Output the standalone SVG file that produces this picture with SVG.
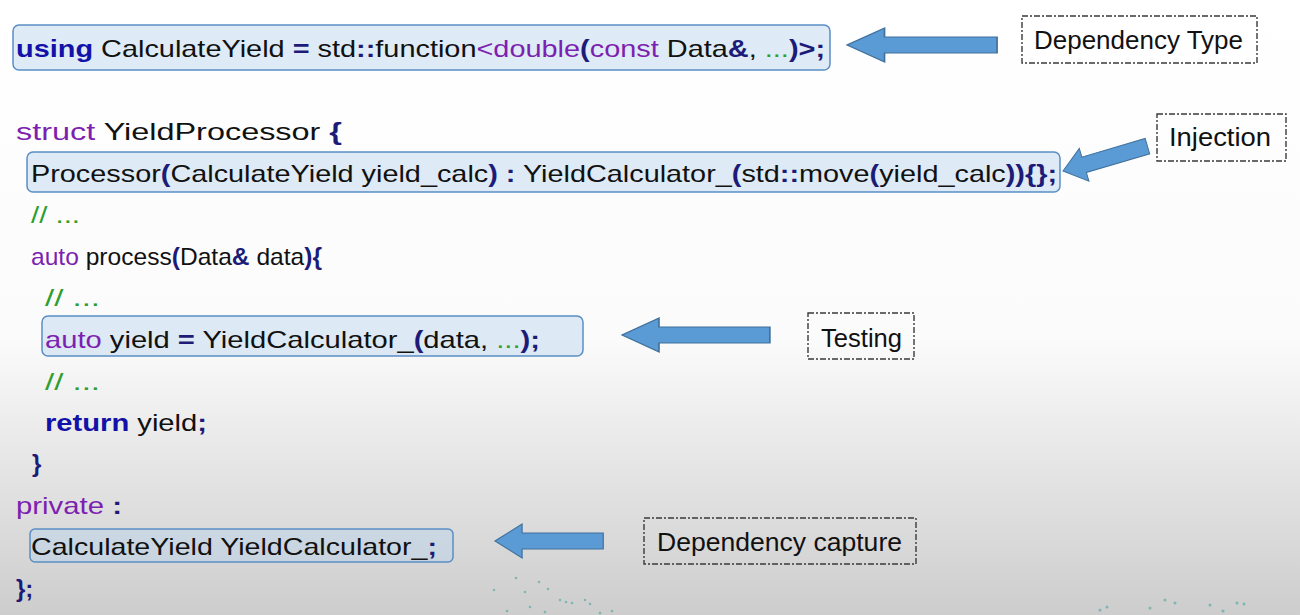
<svg xmlns="http://www.w3.org/2000/svg" width="1300" height="615" viewBox="0 0 1300 615">
<defs>
<linearGradient id="bg" x1="0" y1="0" x2="0" y2="1">
<stop offset="0" stop-color="#ffffff"/>
<stop offset="0.55" stop-color="#fbfbfb"/>
<stop offset="0.75" stop-color="#e6e6e6"/>
<stop offset="1" stop-color="#cdcdcd"/>
</linearGradient>
<path id="blk" d="M0,0 L22,-17 L22,-8 L88,-8 L88,8 L22,8 L22,17 Z"/>
<style>
.code{font-family:"Liberation Sans",Arial,sans-serif;font-size:24px;fill:#111;}
.lbl{font-family:"Liberation Sans",Arial,sans-serif;font-size:25px;fill:#111;}
.kw{fill:#1212a8;font-weight:bold;}
.pu{fill:#7d1fb0;}
.pn{fill:#1c1c78;font-weight:bold;}
.gr{fill:#2e9e2e;}
.hl{fill:#b8d2ec;fill-opacity:0.45;stroke:#5a8ec4;stroke-width:1.5;}
.tag{fill:none;stroke:#3a3a3a;stroke-width:1.4;stroke-dasharray:6 2 2 2;}
.arr{fill:#5b9bd5;stroke:#41719c;stroke-width:1;}
.dot{fill:#3aa39a;opacity:0.55;}
</style>
</defs>
<rect x="0" y="0" width="1300" height="615" fill="url(#bg)"/>

<g id="decor">
<circle class="dot" cx="516" cy="578" r="1.3"/><circle class="dot" cx="539" cy="582" r="1.3"/><circle class="dot" cx="494" cy="590" r="1.3"/><circle class="dot" cx="525" cy="592" r="1.3"/><circle class="dot" cx="548" cy="589" r="1.3"/><circle class="dot" cx="560" cy="600" r="1.3"/><circle class="dot" cx="566" cy="602" r="1.3"/><circle class="dot" cx="572" cy="603" r="1.3"/><circle class="dot" cx="585" cy="600" r="1.3"/><circle class="dot" cx="590" cy="604" r="1.3"/><circle class="dot" cx="530" cy="607" r="1.3"/><circle class="dot" cx="507" cy="611" r="1.3"/><circle class="dot" cx="545" cy="612" r="1.3"/><circle class="dot" cx="612" cy="611" r="1.3"/><circle class="dot" cx="600" cy="613" r="1.3"/>
<circle class="dot" cx="1100" cy="610" r="1.5"/><circle class="dot" cx="1107" cy="607" r="1.5"/><circle class="dot" cx="1150" cy="608" r="1.5"/><circle class="dot" cx="1165" cy="600" r="1.5"/><circle class="dot" cx="1175" cy="603" r="1.5"/><circle class="dot" cx="1210" cy="605" r="1.5"/><circle class="dot" cx="1223" cy="611" r="1.5"/><circle class="dot" cx="1237" cy="603" r="1.5"/><circle class="dot" cx="1244" cy="604" r="1.5"/>
</g>

<g id="highlights">
<rect id="box-type" class="hl" x="13" y="25" width="817" height="45" rx="6"/>
<rect id="box-injection" class="hl" x="27" y="152" width="1033" height="40" rx="6"/>
<rect id="box-testing" class="hl" x="42" y="316" width="541" height="40" rx="6"/>
<rect id="box-capture" class="hl" x="30" y="529" width="423" height="33" rx="5"/>
</g>

<g id="code">
<text class="code" x="16" y="57" textLength="809" lengthAdjust="spacingAndGlyphs"><tspan class="kw">using</tspan> CalculateYield <tspan class="pn">=</tspan> std<tspan class="pn">::</tspan>function<tspan class="pu">&lt;double</tspan><tspan class="pn">(</tspan><tspan class="pu">const</tspan> Data<tspan class="pn">&amp;</tspan>, <tspan class="gr">...</tspan><tspan class="pn">)&gt;;</tspan></text>
<text class="code" x="16" y="140" textLength="326" lengthAdjust="spacingAndGlyphs"><tspan class="pu">struct</tspan> YieldProcessor <tspan class="pn">{</tspan></text>
<text class="code" x="31" y="182" textLength="1026" lengthAdjust="spacingAndGlyphs">Processor<tspan class="pn">(</tspan>CalculateYield yield_calc<tspan class="pn">)</tspan> <tspan class="pn">:</tspan> YieldCalculator_<tspan class="pn">(</tspan>std<tspan class="pn">::</tspan>move<tspan class="pn">(</tspan>yield_calc<tspan class="pn">)){};</tspan></text>
<text class="code gr" x="31" y="223" textLength="49" lengthAdjust="spacingAndGlyphs">// ...</text>
<text class="code" x="31" y="265" textLength="291" lengthAdjust="spacingAndGlyphs"><tspan class="pu">auto</tspan> process<tspan class="pn">(</tspan>Data<tspan class="pn">&amp;</tspan> data<tspan class="pn">){</tspan></text>
<text class="code gr" x="45" y="306" textLength="55" lengthAdjust="spacingAndGlyphs">// ...</text>
<text class="code" x="45" y="348" textLength="495" lengthAdjust="spacingAndGlyphs"><tspan class="pu">auto</tspan> yield <tspan class="pn">=</tspan> YieldCalculator_<tspan class="pn">(</tspan>data, <tspan class="gr">...</tspan><tspan class="pn">);</tspan></text>
<text class="code gr" x="45" y="390" textLength="55" lengthAdjust="spacingAndGlyphs">// ...</text>
<text class="code" x="45" y="431" textLength="162" lengthAdjust="spacingAndGlyphs"><tspan class="kw">return</tspan> yield<tspan class="pn">;</tspan></text>
<text class="code pn" x="32" y="472">}</text>
<text class="code" x="16" y="514" textLength="106" lengthAdjust="spacingAndGlyphs"><tspan class="pu">private</tspan> <tspan class="pn">:</tspan></text>
<text class="code" x="31" y="555" textLength="406" lengthAdjust="spacingAndGlyphs">CalculateYield YieldCalculator_<tspan class="pn">;</tspan></text>
<text class="code pn" x="16" y="597">};</text>
</g>

<g id="connectors">
<use id="arrow-type" href="#blk" class="arr" transform="translate(847,45) scale(1.705,1)"/>
<use id="arrow-injection" href="#blk" class="arr" transform="translate(1063,171) rotate(-16.4)"/>
<use id="arrow-testing" href="#blk" class="arr" transform="translate(622,335) scale(1.68,1)"/>
<use id="arrow-capture" href="#blk" class="arr" transform="translate(495,541) scale(1.23,1)"/>
</g>

<g id="node-dependency-type">
<rect class="tag" x="1022" y="16" width="235" height="47"/>
<text class="lbl" x="1034" y="49" textLength="209" lengthAdjust="spacingAndGlyphs">Dependency Type</text>
</g>
<g id="node-injection">
<rect class="tag" x="1157" y="114" width="129" height="47"/>
<text class="lbl" x="1169" y="146" textLength="102" lengthAdjust="spacingAndGlyphs">Injection</text>
</g>
<g id="node-testing">
<rect class="tag" x="808" y="313" width="106" height="46"/>
<text class="lbl" x="821" y="347" textLength="81" lengthAdjust="spacingAndGlyphs">Testing</text>
</g>
<g id="node-dependency-capture">
<rect class="tag" x="644" y="518" width="272" height="46"/>
<text class="lbl" x="657" y="551" textLength="245" lengthAdjust="spacingAndGlyphs">Dependency capture</text>
</g>
</svg>
